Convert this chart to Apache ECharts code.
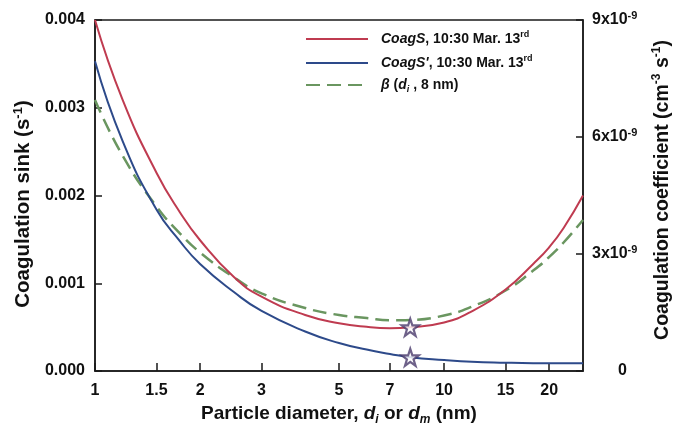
<!DOCTYPE html>
<html>
<head>
<meta charset="utf-8">
<script src="https://cdn.jsdelivr.net/npm/echarts@6/dist/echarts.min.js"></script>
<style>
html,body{margin:0;padding:0;background:#fff;}
#chart{width:675px;height:427px;}
</style>
</head>
<body>
<div id="chart"></div>
<script>
// Particle diameter (nm)
var diam = [1, 1.2, 1.5, 1.75, 2, 2.5, 3, 4, 5, 6, 7, 8, 10, 12, 15, 18, 20, 22, 25];
// CoagS, 10:30 Mar. 13rd (s^-1)
var coagS = [0.00400, 0.00309, 0.00226, 0.00181, 0.00149, 0.00107, 0.000847, 0.000638, 0.000545, 0.000503, 0.000488, 0.000498, 0.000552, 0.000680, 0.000928, 0.00122, 0.00141, 0.00163, 0.00200];
// CoagS', 10:30 Mar. 13rd (s^-1)
var coagSp = [0.00353, 0.00262, 0.00184, 0.00148, 0.00122, 0.000900, 0.000684, 0.000450, 0.000319, 0.000244, 0.000194, 0.000156, 0.000125, 0.000106, 0.000095, 0.000089, 0.000088, 0.000088, 0.000089];
// beta(d_i, 8 nm) (cm^3 s^-1)
var beta = [6.95e-9, 5.52e-9, 4.22e-9, 3.53e-9, 3.04e-9, 2.40e-9, 1.99e-9, 1.615e-9, 1.436e-9, 1.359e-9, 1.302e-9, 1.31e-9, 1.423e-9, 1.649e-9, 2.064e-9, 2.574e-9, 2.923e-9, 3.295e-9, 3.872e-9];
// star markers at 8 nm
var starD = 8;
var starVals = [0.000498, 0.000156];
// tick labels
var xTicks = [1, 1.5, 2, 3, 5, 7, 10, 15, 20];
var seriesNames = ['CoagS', "CoagS'", 'beta'];

function pairs(xs, ys) { return xs.map(function (x, i) { return [x, ys[i]]; }); }

var FONT = '"Liberation Sans", Arial, sans-serif';
var RED = '#BF3B50', BLUE = '#2D4A8A', GREEN = '#6A9660', STAR = '#4A3A6C';
var starPath = 'path://M50,2 L61.8,36.2 L97.6,36.2 L68.6,57.4 L79.6,91.6 L50,70.4 L20.4,91.6 L31.4,57.4 L2.4,36.2 L38.2,36.2 Z';

var chart = echarts.init(document.getElementById('chart'), null, {renderer: 'canvas'});
var option = {
  animation: false,
  backgroundColor: '#fff',
  textStyle: {fontFamily: FONT},
  grid: {left: 95, right: 92, top: 20, bottom: 56, containLabel: false, outerBoundsMode: 'none',
    show: true, borderColor: '#1a1a1a', borderWidth: 1.5, backgroundColor: 'transparent'},
  legend: {
    orient: 'vertical', left: 300, top: 25,
    itemWidth: 62, itemHeight: 14, itemGap: 8,
    data: seriesNames,
    itemStyle: {color: 'rgba(0,0,0,0)', borderWidth: 0, opacity: 0},
    formatter: function (name) {
      if (name === 'CoagS') return '{it|CoagS}{t|, 10:30 Mar. 13}{sup|rd}';
      if (name === "CoagS'") return "{it|CoagS'}{t|, 10:30 Mar. 13}{sup|rd}";
      return '{it|β}{t| (}{it|d}{sub|i}{t| , 8 nm)}';
    },
    textStyle: {
      fontFamily: FONT, color: '#111', padding: [0, 0, 0, 8],
      rich: {
        t: {fontFamily: FONT, fontSize: 14, fontWeight: 'bold', color: '#111', lineHeight: 18},
        it: {fontFamily: FONT, fontSize: 14, fontWeight: 'bold', fontStyle: 'italic', color: '#111', lineHeight: 18},
        sup: {fontFamily: FONT, fontSize: 9, fontWeight: 'bold', color: '#111', lineHeight: 10, verticalAlign: 'top'},
        sub: {fontFamily: FONT, fontSize: 9, fontWeight: 'bold', fontStyle: 'italic', color: '#111', lineHeight: 10, verticalAlign: 'bottom'}
      }
    }
  },
  xAxis: {
    type: 'log', logBase: 10, min: 1, max: 25,
    name: '{t|Particle diameter, }{it|d}{sub|i}{t| or }{it|d}{sub|m}{t| (nm)}',
    nameLocation: 'middle', nameGap: 28,
    nameTextStyle: {
      rich: {
        t: {fontFamily: FONT, fontSize: 19, fontWeight: 'bold', color: '#111', lineHeight: 24},
        it: {fontFamily: FONT, fontSize: 19, fontWeight: 'bold', fontStyle: 'italic', color: '#111', lineHeight: 24},
        sub: {fontFamily: FONT, fontSize: 12, fontWeight: 'bold', fontStyle: 'italic', color: '#111', lineHeight: 14, verticalAlign: 'bottom'}
      }
    },
    axisLine: {lineStyle: {color: '#1a1a1a', width: 1.5}},
    axisTick: {inside: true, length: 8, customValues: xTicks, lineStyle: {color: '#1a1a1a', width: 1.5}},
    minorTick: {show: false},
    axisLabel: {customValues: xTicks, margin: 12, fontFamily: FONT, fontSize: 16, fontWeight: 'bold', color: '#111',
      formatter: function (v) { return String(Math.round(v * 100) / 100); }},
    splitLine: {show: false}
  },
  yAxis: [{
    type: 'value', min: 0, max: 0.004, interval: 0.001, position: 'left',
    name: '{t|Coagulation sink (s}{sup|-1}{t|)}',
    nameLocation: 'middle', nameGap: 58,
    nameTextStyle: {
      padding: [0, 17, 0, 0],
      rich: {
        t: {fontFamily: FONT, fontSize: 20.5, fontWeight: 'bold', color: '#111', lineHeight: 24},
        sup: {fontFamily: FONT, fontSize: 13, fontWeight: 'bold', color: '#111', lineHeight: 14, verticalAlign: 'top'}
      }
    },
    axisLine: {show: true, lineStyle: {color: '#1a1a1a', width: 1.5}},
    axisTick: {show: true, inside: true, length: 7, lineStyle: {color: '#1a1a1a', width: 1.5}},
    axisLabel: {margin: 10, fontFamily: FONT, fontSize: 16, fontWeight: 'bold', color: '#111',
      formatter: function (v) { return v.toFixed(3); }},
    splitLine: {show: false}
  }, {
    type: 'value', min: 0, max: 9e-9, interval: 3e-9, position: 'right',
    name: '{t|Coagulation coefficient (cm}{sup|-3}{t| s}{sup|-1}{t|)}',
    nameLocation: 'middle', nameGap: 68,
    nameTextStyle: {
      padding: [0, 0, 0, 11],
      rich: {
        t: {fontFamily: FONT, fontSize: 19.5, fontWeight: 'bold', color: '#111', lineHeight: 24},
        sup: {fontFamily: FONT, fontSize: 12, fontWeight: 'bold', color: '#111', lineHeight: 14, verticalAlign: 'top'}
      }
    },
    axisLine: {show: true, lineStyle: {color: '#1a1a1a', width: 1.5}},
    axisTick: {show: true, inside: true, length: 7, lineStyle: {color: '#1a1a1a', width: 1.5}},
    axisLabel: {margin: 9, fontFamily: FONT, color: '#111',
      formatter: function (v) {
        var n = Math.round(v * 1e9);
        if (n === 0) return '{z|0}';
        return '{n|' + n + 'x10}{sup|-9}';
      },
      rich: {
        n: {fontFamily: FONT, fontSize: 16, fontWeight: 'bold', color: '#111', lineHeight: 20},
        z: {fontFamily: FONT, fontSize: 16, fontWeight: 'bold', color: '#111', lineHeight: 20, padding: [0, 0, 0, 26]},
        sup: {fontFamily: FONT, fontSize: 11, fontWeight: 'bold', color: '#111', lineHeight: 12, verticalAlign: 'top'}
      }
    },
    splitLine: {show: false}
  }],
  series: [{
    name: 'CoagS', type: 'line', yAxisIndex: 0, data: pairs(diam, coagS),
    smooth: 0.5, symbol: 'none', lineStyle: {color: RED, width: 2}, itemStyle: {color: RED}, z: 3
  }, {
    name: "CoagS'", type: 'line', yAxisIndex: 0, data: pairs(diam, coagSp),
    smooth: 0.5, symbol: 'none', lineStyle: {color: BLUE, width: 2}, itemStyle: {color: BLUE}, z: 3
  }, {
    name: 'beta', type: 'line', yAxisIndex: 1, data: pairs(diam, beta),
    smooth: 0.5, symbol: 'none', lineStyle: {color: GREEN, width: 2.5, type: [14, 7]}, itemStyle: {color: GREEN}, z: 2
  }, {
    name: 'stars', type: 'scatter', yAxisIndex: 0,
    data: starVals.map(function (v) { return [starD, v]; }),
    symbol: starPath, symbolSize: 17,
    itemStyle: {color: '#fff', borderColor: STAR, borderWidth: 2.2}, z: 5
  }]
};
chart.setOption(option);
</script>
</body>
</html>
